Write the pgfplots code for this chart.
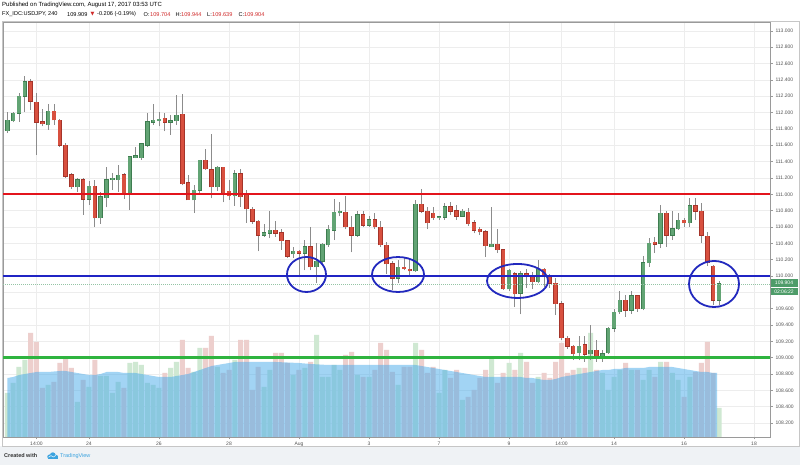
\documentclass[border=0pt]{standalone}
\usepackage{fontspec}
\setmainfont{Liberation Sans}
\newfontfamily\dejavu{DejaVu Sans}
\usepackage{pgfplots}
\usepackage{pgfplotstable}
\pgfplotsset{compat=1.18}

\definecolor{upc}{HTML}{62A474}
\definecolor{upb}{HTML}{3E7D50}
\definecolor{dnc}{HTML}{D8503F}
\definecolor{dnb}{HTML}{A5342A}
\definecolor{wickc}{HTML}{8C8C8C}
\definecolor{resred}{HTML}{E3141C}
\definecolor{supblue}{HTML}{2024C4}
\definecolor{supgreen}{HTML}{2FB43F}
\definecolor{ellblue}{HTML}{2229BE}
\definecolor{volup}{HTML}{CFE8D2}
\definecolor{voldn}{HTML}{EDCFCD}
\definecolor{maarea}{HTML}{46AAEB}
\definecolor{gridc}{HTML}{EDEDED}
\definecolor{footbg}{HTML}{EFF2F5}
\definecolor{tvblue}{HTML}{3BA3DF}
\definecolor{pricegreen}{HTML}{4E9C69}
\definecolor{axisgray}{HTML}{9A9A9A}
\definecolor{labelgray}{HTML}{555555}
\definecolor{hdrred}{HTML}{D02A2A}

\pgfplotstableread{
i O H L C V
0 111.78 112.01 111.75 111.91 44
1 111.90 112.01 111.88 111.99 54
2 111.99 112.24 111.89 112.20 70
3 112.20 112.45 112.01 112.38 77
4 112.38 112.41 112.03 112.14 104
5 112.13 112.24 111.48 111.88 95
6 111.89 112.05 111.83 111.86 49
7 111.85 112.11 111.79 112.02 52
8 112.02 112.11 111.85 111.91 55
9 111.91 111.92 111.58 111.60 74
10 111.60 111.63 111.20 111.22 80
11 111.24 111.26 111.07 111.09 69
12 111.09 111.20 111.03 111.18 35
13 111.18 111.20 110.75 110.94 57
14 110.94 111.16 110.87 111.10 50
15 111.10 111.18 110.60 110.71 77
16 110.71 111.03 110.64 110.97 61
17 110.96 111.34 110.84 111.18 61
18 111.18 111.26 111.05 111.20 44
19 111.18 111.36 111.03 111.23 55
20 111.24 111.26 110.94 111.02 49
21 111.02 111.46 110.81 111.46 74
22 111.45 111.58 111.44 111.47 75
23 111.45 111.62 111.42 111.62 72
24 111.60 111.99 111.58 111.89 54
25 111.88 112.11 111.85 111.91 52
26 111.90 112.01 111.83 111.92 49
27 111.93 111.99 111.77 111.88 64
28 111.88 111.97 111.73 111.90 69
29 111.90 112.22 111.85 111.97 75
30 111.98 112.23 111.11 111.13 97
31 111.14 111.24 110.93 110.93 69
32 110.93 111.11 110.77 111.05 65
33 111.05 111.42 111.02 111.42 89
34 111.42 111.55 111.30 111.31 89
35 111.30 111.74 110.95 111.09 101
36 111.09 111.35 111.04 111.33 70
37 111.33 111.34 110.90 111.02 64
38 111.04 111.18 110.93 110.98 67
39 110.98 111.30 110.86 111.25 77
40 111.25 111.31 110.85 110.97 97
41 110.99 111.05 110.65 110.82 97
42 110.82 110.85 110.64 110.67 47
43 110.67 110.69 110.30 110.50 70
44 110.50 110.64 110.48 110.53 50
45 110.52 110.79 110.46 110.56 67
46 110.56 110.67 110.48 110.52 84
47 110.53 110.57 110.32 110.43 84
48 110.43 110.44 110.22 110.24 74
49 110.27 110.36 110.22 110.30 62
50 110.30 110.32 110.01 110.28 67
51 110.28 110.44 110.07 110.36 69
52 110.36 110.60 110.07 110.11 75
53 110.11 110.40 109.91 110.18 102
54 110.18 110.40 110.16 110.39 60
55 110.38 110.62 110.36 110.57 60
56 110.56 110.94 110.44 110.78 72
57 110.77 110.91 110.73 110.79 67
58 110.78 110.98 110.57 110.60 82
59 110.60 110.73 110.29 110.50 85
60 110.50 110.79 110.48 110.75 62
61 110.75 110.80 110.60 110.62 60
62 110.62 110.73 110.60 110.69 60
63 110.69 110.77 110.58 110.60 67
64 110.60 110.67 110.36 110.38 94
65 110.38 110.42 110.03 110.15 87
66 110.15 110.18 109.83 109.97 65
67 109.97 110.20 109.91 110.11 52
68 110.11 110.22 110.07 110.09 70
69 110.08 110.20 110.01 110.06 70
70 110.06 110.93 110.05 110.88 94
71 110.88 111.07 110.77 110.79 87
72 110.79 110.85 110.57 110.65 64
73 110.77 110.85 110.69 110.71 70
74 110.71 110.73 110.69 110.72 44
75 110.72 110.89 110.69 110.85 67
76 110.85 110.91 110.75 110.79 59
77 110.80 110.87 110.69 110.73 67
78 110.73 110.82 110.73 110.79 37
79 110.78 110.83 110.61 110.64 40
80 110.65 110.69 110.52 110.56 47
81 110.57 110.60 110.50 110.54 59
82 110.54 110.56 110.23 110.37 67
83 110.36 110.85 110.35 110.39 80
84 110.39 110.57 110.28 110.32 54
85 110.32 110.33 109.83 109.84 64
86 109.84 110.09 109.82 110.07 74
87 110.03 110.05 109.62 109.78 67
88 109.79 110.06 109.53 110.03 84
89 110.03 110.08 109.85 110.00 75
90 110.00 110.05 109.84 109.93 54
91 109.93 110.20 109.91 110.08 60
92 110.08 110.10 109.86 109.99 64
93 109.99 110.02 109.85 109.91 59
94 109.91 109.97 109.52 109.66 75
95 109.66 109.69 109.22 109.24 94
96 109.24 109.26 109.11 109.14 64
97 109.14 109.16 108.97 109.05 67
98 109.06 109.26 108.97 109.14 69
99 109.16 109.26 108.95 109.04 69
100 109.05 109.40 108.97 109.09 104
101 109.09 109.22 108.95 109.01 67
102 109.00 109.09 108.95 109.05 64
103 109.06 109.38 109.05 109.36 47
104 109.36 109.60 109.32 109.56 60
105 109.56 109.81 109.54 109.70 67
106 109.70 109.77 109.50 109.58 74
107 109.58 109.81 109.54 109.76 67
108 109.76 109.77 109.56 109.60 67
109 109.60 110.24 109.58 110.16 57
110 110.16 110.46 110.11 110.40 67
111 110.41 110.48 110.28 110.39 60
112 110.40 110.87 110.34 110.77 75
113 110.77 110.79 110.36 110.50 75
114 110.50 110.79 110.44 110.58 64
115 110.58 110.77 110.56 110.68 57
116 110.68 110.71 110.60 110.65 40
117 110.65 110.95 110.60 110.86 60
118 110.86 110.95 110.69 110.79 65
119 110.79 110.89 110.40 110.50 74
120 110.49 110.54 110.12 110.16 95
121 110.12 110.13 109.64 109.70 64
122 109.704 109.944 109.639 109.904 29
}\candles

\pgfplotstableread{
i M
0 59
1 60
2 62
3 63
4 64
5 65
7 65
9 66
10 66
11 65
12 64
13 63
14 62
15 62
16 63
17 65
19 65
20 64
22 64
23 63
24 62
25 61
26 60
28 60
29 61
30 62
31 63
32 65
33 67
34 69
35 71
36 72
37 73
38 74
39 75
46 75
50 74
52 73
55 72
70 72
71 71
72 70
73 69
74 68
75 67
76 66
77 65
78 64
79 63
80 62
81 61
82 60
88 60
89 59
90 59
91 58
92 57
93 57
94 58
95 60
96 61
97 62
98 63
99 64
100 65
101 66
102 67
103 67
104 68
105 68
106 69
109 69
110 70
114 70
115 69
116 68
117 67
118 66
119 65
120 65
121 64
121.7 64
}\maline

\pgfplotsset{
  base/.style={scale only axis, width=767pt, height=415pt, at={(3pt,28pt)},
    anchor=south west, xmin=-2.457, xmax=19.457},
  pricey/.style={ymin=108.029, ymax=113.109},
}

\begin{document}
\begin{tikzpicture}
\fill[white] (0,0) rectangle (800pt,465pt);
\path[use as bounding box] (0,0) rectangle (800pt,465pt);
\fill[footbg] (0,0) rectangle (800pt,18.5pt);

% grid
\begin{axis}[base, pricey,
  xtick={-1.5,0,2,4,6,8,10,12,13.5,15,17,19},
  ytick={108.2,108.4,108.6,108.8,109.0,109.2,109.4,109.6,109.8,110.0,110.2,110.4,110.6,110.8,111.0,111.2,111.4,111.6,111.8,112.0,112.2,112.4,112.6,112.8,113.0},
  xticklabels={}, yticklabels={}, grid=major,
  major grid style={draw=gridc, line width=0.6pt},
  axis line style={draw=none}, major tick length=0pt]
\addplot[draw=none] coordinates {(0,110)};
\end{axis}

% volume
\begin{axis}[base, ymin=0, ymax=415, hide axis]
\addplot[ybar, bar shift=0pt, bar width=5pt, fill=volup, draw=none,
  restrict expr to domain={\thisrow{C}-\thisrow{O}}{0:10}]
  table[x expr=(\thisrow{i}-14)/6, y=V]{\candles};
\addplot[ybar, bar shift=0pt, bar width=5pt, fill=voldn, draw=none,
  restrict expr to domain={\thisrow{C}-\thisrow{O}}{-10:-0.000001}]
  table[x expr=(\thisrow{i}-14)/6, y=V]{\candles};
\addplot[fill=maarea, fill opacity=0.5, draw=none]
  table[x expr=(\thisrow{i}-14)/6, y=M]{\maline} \closedcycle;
\end{axis}

% price
\begin{axis}[base, pricey,
  axis line style={draw=axisgray, line width=0.7pt},
  xtick={-1.5,0,2,4,6,8,10,12,13.5,15,17,19},
  xticklabels={14:00,24,26,28,Aug,3,7,9,14:00,14,16,18},
  ytick={108.2,108.4,108.6,108.8,109.0,109.2,109.4,109.6,109.8,110.0,110.2,110.4,110.6,110.8,111.0,111.2,111.4,111.6,111.8,112.0,112.2,112.4,112.6,112.8,113.0},
  yticklabels={108.200,108.400,108.600,108.800,109.000,109.200,109.400,109.600,109.800,110.000,110.200,110.400,110.600,110.800,111.000,111.200,111.400,111.600,111.800,112.000,112.200,112.400,112.600,112.800,113.000},
  xtick pos=left, ytick pos=right, tick align=outside,
  major tick length=2.5pt, tick style={draw=axisgray, line width=0.5pt},
  ticklabel style={font=\fontsize{5}{6}\selectfont, text=labelgray},
  xticklabel style={yshift=1pt}, yticklabel style={xshift=-0.5pt}]
% wicks
\addplot[draw=none, no markers, error bars/.cd, y dir=plus, y explicit,
  error mark=none, error bar style={draw=wickc, line width=0.8pt}]
  table[x expr=(\thisrow{i}-14)/6, y=L, y error expr=\thisrow{H}-\thisrow{L}]{\candles};
% up bodies: border then fill
\addplot[draw=none, no markers,
  restrict expr to domain={\thisrow{C}-\thisrow{O}}{0:10},
  error bars/.cd, y dir=plus, y explicit, error mark=none,
  error bar style={draw=upb, line width=4.6pt}]
  table[x expr=(\thisrow{i}-14)/6, y expr=\thisrow{O}-0.005, y error expr={max(\thisrow{C}-\thisrow{O},0.014)+0.010}]{\candles};
\addplot[draw=none, no markers,
  restrict expr to domain={\thisrow{C}-\thisrow{O}}{0:10},
  error bars/.cd, y dir=plus, y explicit, error mark=none,
  error bar style={draw=upc, line width=3.2pt}]
  table[x expr=(\thisrow{i}-14)/6, y=O, y error expr={max(\thisrow{C}-\thisrow{O},0.014)}]{\candles};
% down bodies: border then fill
\addplot[draw=none, no markers,
  restrict expr to domain={\thisrow{C}-\thisrow{O}}{-10:-0.000001},
  error bars/.cd, y dir=plus, y explicit, error mark=none,
  error bar style={draw=dnb, line width=4.6pt}]
  table[x expr=(\thisrow{i}-14)/6, y expr=\thisrow{C}-0.005, y error expr={max(\thisrow{O}-\thisrow{C},0.014)+0.010}]{\candles};
\addplot[draw=none, no markers,
  restrict expr to domain={\thisrow{C}-\thisrow{O}}{-10:-0.000001},
  error bars/.cd, y dir=plus, y explicit, error mark=none,
  error bar style={draw=dnc, line width=3.2pt}]
  table[x expr=(\thisrow{i}-14)/6, y=C, y error expr={max(\thisrow{O}-\thisrow{C},0.014)}]{\candles};
% current price line
\addplot[pricegreen!60, dash pattern=on 1pt off 1pt, line width=0.5pt] coordinates {(-2.457,109.904) (19.457,109.904)};
% levels
\addplot[resred, line width=2.4pt] coordinates {(-2.457,111.0) (19.457,111.0)};
\addplot[supblue, line width=2.4pt] coordinates {(-2.457,110.0) (19.457,110.0)};
\addplot[supgreen, line width=2.4pt] coordinates {(-2.457,109.0) (19.457,109.0)};
% ellipses
\draw[ellblue, line width=1.8pt] (axis cs:6.214,110.018) ellipse [x radius=0.557, y radius=0.214];
\draw[ellblue, line width=1.8pt] (axis cs:8.829,110.018) ellipse [x radius=0.743, y radius=0.214];
\draw[ellblue, line width=1.8pt] (axis cs:12.243,109.939) ellipse [x radius=0.871, y radius=0.208];
\draw[ellblue, line width=1.8pt] (axis cs:17.857,109.902) ellipse [x radius=0.714, y radius=0.282];
\end{axis}

\begin{scope}[x=1pt, y=1pt]
% frame
\draw[gray!45, line width=0.7pt] (2.5,18.5) rectangle (799.5,443.5);
% price boxes
\fill[pricegreen] (770.5,178) rectangle (797.5,186);
\node[font=\fontsize{5}{6}\selectfont, text=white, inner sep=0pt] at (784,182) {109.904};
\fill[pricegreen] (770.5,169.5) rectangle (797.5,177.3);
\node[font=\fontsize{5}{6}\selectfont, text=white, inner sep=0pt] at (784,173.4) {02:06:22};
% header
\node[anchor=west, inner sep=0pt, font=\fontsize{6}{7}\selectfont, text=black] at (2,460.3) {Published on TradingView.com, August 17, 2017 03:53 UTC};
\begin{scope}[every node/.style={anchor=west, inner sep=0pt, font=\fontsize{5.6}{7}\selectfont}]
\node[text=black] at (2,450.6) {FX\_IDC:USDJPY, 240};
\node[text=black] at (67,450.6) {109.909};
\node[text=hdrred, font=\dejavu\fontsize{5}{6}\selectfont] at (90.5,450.6) {▼};
\node[text=black] at (97,450.6) {-0.206 (-0.19\%)};
\node[text=black] at (143.5,450.6) {O:};
\node[text=hdrred] at (150,450.6) {109.704};
\node[text=black] at (175.5,450.6) {H:};
\node[text=hdrred] at (181,450.6) {109.944};
\node[text=black] at (207,450.6) {L:};
\node[text=hdrred] at (212,450.6) {109.639};
\node[text=black] at (238.5,450.6) {C:};
\node[text=hdrred] at (244,450.6) {109.904};
\end{scope}
% footer
\node[anchor=west, inner sep=0pt, font=\bfseries\fontsize{5.5}{6.5}\selectfont, text=black!80] at (4,9) {Created with};
\fill[tvblue] (49.5,8.3) circle (2.2);
\fill[tvblue] (52.8,9.8) circle (2.9);
\fill[tvblue] (56,8.2) circle (2.0);
\fill[tvblue] (47.8,6.1) rectangle (57.5,8.2);
\draw[white, line width=0.5pt] (48.5,7.8) -- (51,9.4) -- (53.2,8) -- (56,9.6);
\node[anchor=west, inner sep=0pt, font=\fontsize{5.5}{6.5}\selectfont, text=tvblue] at (60,9) {TradingView};
\end{scope}
\end{tikzpicture}
\end{document}
